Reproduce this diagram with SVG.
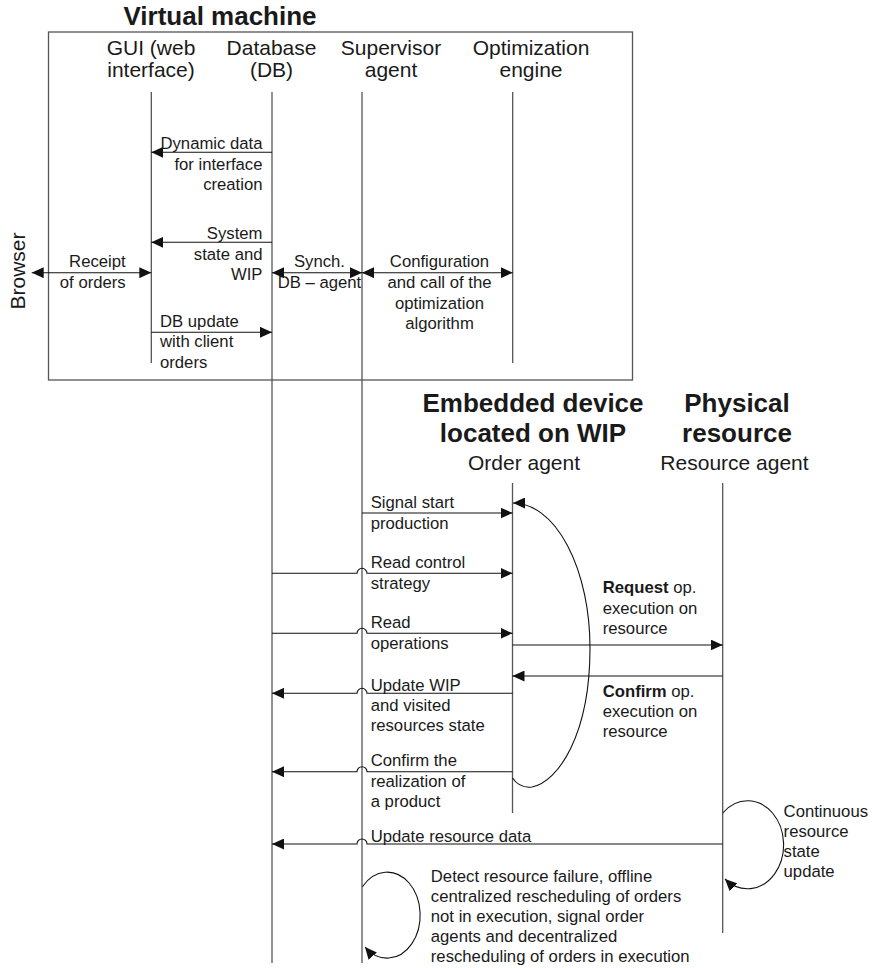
<svg xmlns="http://www.w3.org/2000/svg" width="873" height="968" viewBox="0 0 873 968">
  <style>
    text { font-family: "Liberation Sans", Arial, sans-serif; fill: #1a1a1a; }
    .title { font-size: 26px; font-weight: bold; }
    .head { font-size: 21px; }
    .lbl { font-size: 16.7px; }
    .mid { text-anchor: middle; }
    .end { text-anchor: end; }
    .life { stroke: #555; stroke-width: 1.3; fill: none; }
    .msg { stroke: #111; stroke-width: 1.1; fill: none; }
    .box { stroke: #555; stroke-width: 1.3; fill: none; }
  </style>
  <defs>
    <marker id="arr" viewBox="0 0 12 11" refX="12" refY="5.5" markerWidth="12" markerHeight="11" markerUnits="userSpaceOnUse" orient="auto-start-reverse">
      <path d="M0,0 L12,5.5 L0,11 z" fill="#111"/>
    </marker>
  </defs>

  <rect fill="#fff" width="873" height="968"/>

  <!-- Virtual machine container -->
  <g id="virtual-machine">
    <rect class="box" x="48.5" y="32" width="584" height="348"/>
    <text class="title mid" x="220" y="25">Virtual machine</text>
  </g>

  <text class="head mid" transform="translate(25,271) rotate(-90)">Browser</text>

  <!-- lifelines -->
  <g id="gui">
    <text class="head mid" x="151" y="55">GUI (web</text>
    <text class="head mid" x="151" y="77">interface)</text>
    <line class="life" x1="151.3" y1="92" x2="151.3" y2="363"/>
  </g>
  <g id="database">
    <text class="head mid" x="271.5" y="55">Database</text>
    <text class="head mid" x="271.5" y="77">(DB)</text>
    <line class="life" x1="272" y1="92" x2="272" y2="963"/>
  </g>
  <g id="supervisor">
    <text class="head mid" x="391" y="55">Supervisor</text>
    <text class="head mid" x="391" y="77">agent</text>
    <line class="life" x1="362" y1="92" x2="362" y2="963"/>
  </g>
  <g id="optimization">
    <text class="head mid" x="531" y="55">Optimization</text>
    <text class="head mid" x="531" y="77">engine</text>
    <line class="life" x1="512.7" y1="92" x2="512.7" y2="363"/>
  </g>
  <g id="order-agent">
    <text class="title mid" x="533" y="411.7">Embedded device</text>
    <text class="title mid" x="533" y="441.7">located on WIP</text>
    <text class="head mid" x="524" y="470">Order agent</text>
    <line class="life" x1="512.5" y1="483" x2="512.5" y2="813"/>
  </g>
  <g id="resource-agent">
    <text class="title mid" x="737" y="411.7">Physical</text>
    <text class="title mid" x="737" y="441.7">resource</text>
    <text class="head mid" x="734.5" y="470">Resource agent</text>
    <line class="life" x1="722.7" y1="483" x2="722.7" y2="933"/>
  </g>

  <!-- messages -->
  <g id="connectors">
    <path class="msg" d="M272,152.3 H151.3" marker-end="url(#arr)"/>
    <path class="msg" d="M272,242.3 H151.3" marker-end="url(#arr)"/>
    <path class="msg" d="M31.7,272.7 H151.3" marker-start="url(#arr)" marker-end="url(#arr)"/>
    <path class="msg" d="M272,272.7 H362" marker-start="url(#arr)" marker-end="url(#arr)"/>
    <path class="msg" d="M362,272.7 H512.7" marker-start="url(#arr)" marker-end="url(#arr)"/>
    <path class="msg" d="M151.3,332.3 H272" marker-end="url(#arr)"/>

    <path class="msg" d="M362,513 H512.5" marker-end="url(#arr)"/>
    <path class="msg" d="M272,573.3 H357 A5,5 0 0 1 367,573.3 H512.5" marker-end="url(#arr)"/>
    <path class="msg" d="M272,633.3 H357 A5,5 0 0 1 367,633.3 H512.5" marker-end="url(#arr)"/>
    <path class="msg" d="M512.5,645 H722.7" marker-end="url(#arr)"/>
    <path class="msg" d="M722.7,676 H512.5" marker-end="url(#arr)"/>
    <path class="msg" d="M512.5,693.3 H367 A5,5 0 0 0 357,693.3 H272" marker-end="url(#arr)"/>
    <path class="msg" d="M512.5,771.7 H367 A5,5 0 0 0 357,771.7 H272" marker-end="url(#arr)"/>
    <path class="msg" d="M722.7,844 H367 A5,5 0 0 0 357,844 H272" marker-end="url(#arr)"/>

    <!-- self loops -->
    <path class="msg" d="M512.5,778 C518,786 524,788 532,787 C558,782 590,735 590,648 A77,145 0 0 0 513,503" marker-end="url(#arr)"/>
    <path class="msg" d="M722.7,813 A36,44 0 1 1 725,879" marker-end="url(#arr)"/>
    <path class="msg" d="M362.4,886.7 A33,43 0 1 1 365,947" marker-end="url(#arr)"/>
  </g>

  <!-- message labels -->
  <g id="labels">
    <text class="lbl end" x="262.5" y="149">Dynamic data</text>
    <text class="lbl end" x="262.5" y="169.5">for interface</text>
    <text class="lbl end" x="262.5" y="190">creation</text>

    <text class="lbl end" x="262.5" y="239">System</text>
    <text class="lbl end" x="262.5" y="259.5">state and</text>
    <text class="lbl end" x="262.5" y="280">WIP</text>

    <text class="lbl end" x="125.7" y="267">Receipt</text>
    <text class="lbl end" x="125.7" y="287.5">of orders</text>

    <text class="lbl mid" x="319.5" y="267">Synch.</text>
    <text class="lbl mid" x="319.5" y="287.5">DB – agent</text>

    <text class="lbl mid" x="439.5" y="267">Configuration</text>
    <text class="lbl mid" x="439.5" y="288">and call of the</text>
    <text class="lbl mid" x="439.5" y="308.5">optimization</text>
    <text class="lbl mid" x="439.5" y="329">algorithm</text>

    <text class="lbl" x="160" y="326.5">DB update</text>
    <text class="lbl" x="160" y="347">with client</text>
    <text class="lbl" x="160" y="367.5">orders</text>

    <text class="lbl" x="370.7" y="508">Signal start</text>
    <text class="lbl" x="370.7" y="528.5">production</text>

    <text class="lbl" x="370.7" y="568">Read control</text>
    <text class="lbl" x="370.7" y="588.5">strategy</text>

    <text class="lbl" x="370.7" y="628">Read</text>
    <text class="lbl" x="370.7" y="648.5">operations</text>

    <text class="lbl" x="370.7" y="690.5">Update WIP</text>
    <text class="lbl" x="370.7" y="711">and visited</text>
    <text class="lbl" x="370.7" y="731">resources state</text>

    <text class="lbl" x="370.7" y="766">Confirm the</text>
    <text class="lbl" x="370.7" y="786.5">realization of</text>
    <text class="lbl" x="370.7" y="807">a product</text>

    <text class="lbl" x="370.7" y="841.5">Update resource data</text>

    <text class="lbl" x="602.7" y="593.3"><tspan font-weight="bold">Request</tspan> op.</text>
    <text class="lbl" x="602.7" y="613.5">execution on</text>
    <text class="lbl" x="602.7" y="633.5">resource</text>

    <text class="lbl" x="602.7" y="696.5"><tspan font-weight="bold">Confirm</tspan> op.</text>
    <text class="lbl" x="602.7" y="716.5">execution on</text>
    <text class="lbl" x="602.7" y="736.5">resource</text>

    <text class="lbl" x="783.6" y="816.7">Continuous</text>
    <text class="lbl" x="783.6" y="837">resource</text>
    <text class="lbl" x="783.6" y="857">state</text>
    <text class="lbl" x="783.6" y="877">update</text>

    <text class="lbl" x="430.8" y="881.7">Detect resource failure, offline</text>
    <text class="lbl" x="430.8" y="901.7">centralized rescheduling of orders</text>
    <text class="lbl" x="430.8" y="921.7">not in execution, signal order</text>
    <text class="lbl" x="430.8" y="941.7">agents and decentralized</text>
    <text class="lbl" x="430.8" y="961.7">rescheduling of orders in execution</text>
  </g>
</svg>
